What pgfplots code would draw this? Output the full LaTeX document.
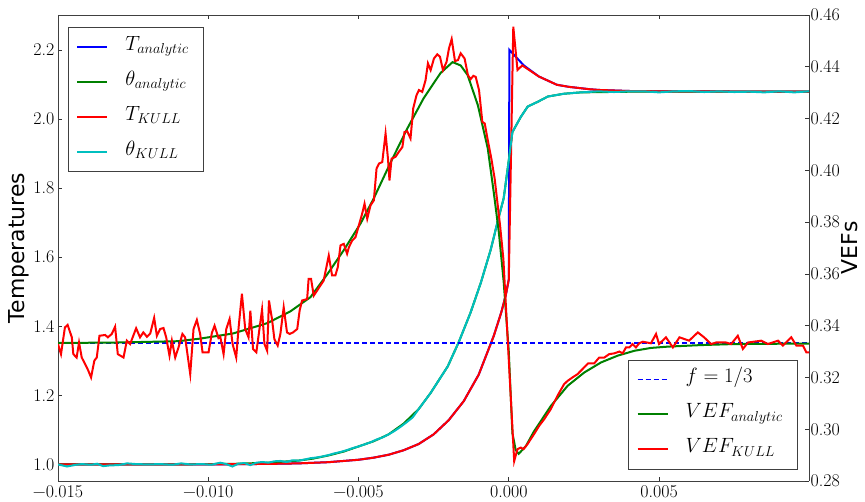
\documentclass[border=0pt]{standalone}
\usepackage{fontspec}
\usepackage{pgfplots}
\pgfplotsset{compat=1.18}
\newfontfamily\labelfont{DejaVu Sans}
\definecolor{mplgreen}{rgb}{0,0.5,0}
\definecolor{mplcyan}{rgb}{0,0.75,0.75}

\pgfplotstableread{
x y
-0.01500 1.000
-0.01000 1.000
-0.00800 1.0015
-0.00700 1.003
-0.00600 1.0065
-0.00500 1.0135
-0.00450 1.0195
-0.00400 1.028
-0.00350 1.041
-0.00300 1.059
-0.00250 1.087
-0.00200 1.128
-0.00150 1.183
-0.00100 1.260
-0.00050 1.372
-0.00025 1.440
-0.00010 1.490
0.00000 1.535
0.00002 2.200
0.00050 2.155
0.00100 2.123
0.00160 2.099
0.00200 2.093
0.00270 2.086
0.00300 2.084
0.00400 2.081
0.00500 2.080
0.00999 2.079
}\Tana

\pgfplotstableread{
x y
-0.01500 1.000
-0.01000 1.000
-0.00800 1.0015
-0.00700 1.003
-0.00600 1.0065
-0.00500 1.0135
-0.00450 1.0195
-0.00400 1.028
-0.00350 1.041
-0.00300 1.059
-0.00250 1.087
-0.00200 1.128
-0.00150 1.183
-0.00100 1.260
-0.00050 1.372
-0.00025 1.440
-0.00010 1.490
0.00000 1.535
0.00015 2.267
0.00029 2.142
0.00045 2.155
0.00100 2.123
0.00160 2.099
0.00200 2.093
0.00270 2.086
0.00300 2.084
0.00400 2.081
0.00500 2.080
0.00999 2.079
}\Tkull

\pgfplotstableread{
x y
-0.01500 1.000
-0.01100 1.000
-0.01000 1.001
-0.00900 1.002
-0.00800 1.005
-0.00700 1.011
-0.00650 1.017
-0.00600 1.026
-0.00550 1.037
-0.00500 1.052
-0.00450 1.067
-0.00427 1.076
-0.00400 1.087
-0.00350 1.118
-0.00300 1.160
-0.00260 1.207
-0.00203 1.284
-0.00167 1.353
-0.00127 1.440
-0.00093 1.526
-0.00060 1.622
-0.00033 1.717
-0.00017 1.770
0.00000 1.880
0.00012 1.962
0.00040 2.006
0.00063 2.036
0.00097 2.050
0.00130 2.065
0.00183 2.073
0.00240 2.077
0.00410 2.079
0.00999 2.079
}\thana

\pgfplotstableread{
x y
-0.01500 1.000
-0.01470 0.994
-0.01440 0.999
-0.01420 1.001
-0.01390 0.999
-0.01370 1.002
-0.01350 0.995
-0.01330 0.997
-0.01300 0.998
-0.01270 1.003
-0.01240 1.001
-0.01200 1.000
-0.01160 1.001
-0.01120 0.999
-0.01090 1.003
-0.01060 1.000
-0.01020 1.001
-0.00990 0.999
-0.00960 1.005
-0.00940 1.001
-0.00920 0.994
-0.00900 1.002
-0.00880 1.004
-0.00860 0.998
-0.00840 1.005
-0.00820 1.007
-0.00800 1.005
-0.00780 1.009
-0.00760 1.010
-0.00740 1.007
-0.00720 1.012
-0.00700 1.011
-0.00680 1.014
-0.00660 1.018
-0.00640 1.020
-0.00620 1.023
-0.00600 1.027
-0.00580 1.032
-0.00560 1.036
-0.00540 1.041
-0.00520 1.047
-0.00500 1.052
-0.00480 1.058
-0.00460 1.064
-0.00440 1.072
-0.00420 1.078
-0.00400 1.087
-0.00380 1.097
-0.00360 1.109
-0.00340 1.122
-0.00320 1.136
-0.00300 1.160
-0.00260 1.207
-0.00203 1.284
-0.00167 1.353
-0.00127 1.440
-0.00093 1.526
-0.00060 1.622
-0.00033 1.717
-0.00017 1.770
0.00000 1.880
0.00012 1.962
0.00040 2.006
0.00063 2.036
0.00097 2.050
0.00130 2.065
0.00183 2.073
0.00240 2.077
0.00300 2.080
0.00350 2.078
0.00400 2.080
0.00450 2.080
0.00500 2.077
0.00550 2.080
0.00600 2.081
0.00650 2.078
0.00700 2.080
0.00750 2.078
0.00800 2.079
0.00850 2.077
0.00900 2.080
0.00950 2.077
0.00999 2.080
}\thkull

\pgfplotstableread{
x y
-0.01500 0.3333
-0.01300 0.3335
-0.01100 0.3340
-0.01027 0.3350
-0.00917 0.3370
-0.00803 0.3410
-0.00727 0.3455
-0.00660 0.3510
-0.00603 0.3600
-0.00550 0.3690
-0.00493 0.3795
-0.00450 0.3890
-0.00393 0.4031
-0.00337 0.4163
-0.00283 0.4279
-0.00227 0.4376
-0.00187 0.4418
-0.00160 0.4405
-0.00137 0.4368
-0.00103 0.4252
-0.00070 0.4085
-0.00050 0.3915
-0.00033 0.3760
-0.00017 0.3570
0.00000 0.3300
0.00012 0.2985
0.00023 0.2920
0.00033 0.2905
0.00057 0.2935
0.00083 0.2990
0.00140 0.3090
0.00196 0.3168
0.00251 0.3219
0.00307 0.3258
0.00362 0.3284
0.00418 0.3303
0.00473 0.3314
0.00529 0.3319
0.00640 0.3325
0.00750 0.3329
0.00999 0.3331
}\Vana

\pgfplotstableread{
x y
-0.01500 0.3329
-0.01490 0.3290
-0.01477 0.3393
-0.01468 0.3403
-0.01454 0.3355
-0.01449 0.3290
-0.01438 0.3277
-0.01430 0.3335
-0.01421 0.3277
-0.01410 0.3252
-0.01399 0.3226
-0.01390 0.3200
-0.01379 0.3265
-0.01371 0.3277
-0.01362 0.3361
-0.01343 0.3364
-0.01334 0.3355
-0.01321 0.3368
-0.01310 0.3396
-0.01301 0.3290
-0.01282 0.3277
-0.01271 0.3342
-0.01260 0.3329
-0.01240 0.3390
-0.01227 0.3355
-0.01216 0.3374
-0.01204 0.3357
-0.01193 0.3370
-0.01180 0.3430
-0.01171 0.3361
-0.01160 0.3387
-0.01149 0.3391
-0.01140 0.3355
-0.01129 0.3284
-0.01121 0.3342
-0.01110 0.3277
-0.01099 0.3316
-0.01086 0.3368
-0.01077 0.3355
-0.01060 0.3213
-0.01049 0.3387
-0.01038 0.3422
-0.01027 0.3368
-0.01019 0.3297
-0.00999 0.3297
-0.00988 0.3372
-0.00979 0.3400
-0.00966 0.3352
-0.00960 0.3357
-0.00949 0.3290
-0.00940 0.3387
-0.00929 0.3426
-0.00919 0.3329
-0.00907 0.3277
-0.00899 0.3393
-0.00888 0.3523
-0.00877 0.3387
-0.00866 0.3355
-0.00860 0.3458
-0.00851 0.3310
-0.00840 0.3297
-0.00829 0.3393
-0.00821 0.3462
-0.00813 0.3329
-0.00804 0.3303
-0.00798 0.3497
-0.00788 0.3426
-0.00780 0.3348
-0.00769 0.3323
-0.00760 0.3368
-0.00749 0.3471
-0.00738 0.3374
-0.00729 0.3368
-0.00718 0.3374
-0.00704 0.3387
-0.00696 0.3458
-0.00688 0.3497
-0.00671 0.3503
-0.00666 0.3581
-0.00658 0.3581
-0.00649 0.3516
-0.00638 0.3535
-0.00627 0.3555
-0.00616 0.3574
-0.00599 0.3671
-0.00588 0.3594
-0.00577 0.3594
-0.00569 0.3626
-0.00560 0.3710
-0.00549 0.3716
-0.00538 0.3678
-0.00532 0.3703
-0.00521 0.3729
-0.00510 0.3742
-0.00499 0.3787
-0.00488 0.3832
-0.00480 0.3871
-0.00471 0.3813
-0.00460 0.3865
-0.00449 0.3884
-0.00440 0.4007
-0.00432 0.4026
-0.00421 0.4032
-0.00410 0.4142
-0.00402 0.4045
-0.00397 0.3961
-0.00390 0.4045
-0.00377 0.4052
-0.00366 0.4071
-0.00354 0.4090
-0.00347 0.4148
-0.00338 0.4151
-0.00327 0.4123
-0.00318 0.4239
-0.00307 0.4290
-0.00299 0.4310
-0.00288 0.4303
-0.00277 0.4348
-0.00269 0.4413
-0.00260 0.4387
-0.00249 0.4432
-0.00238 0.4448
-0.00229 0.4439
-0.00219 0.4387
-0.00207 0.4419
-0.00199 0.4471
-0.00190 0.4507
-0.00179 0.4422
-0.00169 0.4426
-0.00160 0.4452
-0.00147 0.4432
-0.00136 0.4368
-0.00127 0.4352
-0.00118 0.4365
-0.00110 0.4361
-0.00099 0.4310
-0.00088 0.4187
-0.00080 0.4181
-0.00071 0.4123
-0.00058 0.4045
-0.00047 0.3968
-0.00038 0.3877
-0.00029 0.3787
-0.00018 0.3658
0.00018 0.2877
0.00029 0.2923
0.00040 0.2929
0.00049 0.2923
0.00062 0.2942
0.00084 0.2981
0.00101 0.3013
0.00118 0.3039
0.00140 0.3078
0.00162 0.3129
0.00184 0.3174
0.00196 0.3187
0.00212 0.3200
0.00229 0.3213
0.00251 0.3239
0.00264 0.3254
0.00284 0.3254
0.00301 0.3277
0.00318 0.3277
0.00334 0.3290
0.00351 0.3293
0.00368 0.3300
0.00379 0.3293
0.00390 0.3316
0.00401 0.3316
0.00412 0.3329
0.00423 0.3316
0.00434 0.3332
0.00446 0.3338
0.00473 0.3332
0.00490 0.3368
0.00500 0.3329
0.00523 0.3355
0.00546 0.3316
0.00568 0.3355
0.00600 0.3342
0.00629 0.3374
0.00650 0.3355
0.00673 0.3329
0.00690 0.3335
0.00723 0.3335
0.00740 0.3329
0.00762 0.3361
0.00779 0.3310
0.00796 0.3335
0.00840 0.3342
0.00862 0.3329
0.00896 0.3342
0.00912 0.3323
0.00940 0.3355
0.00957 0.3323
0.00979 0.3323
0.00990 0.3297
0.00999 0.3297
}\Vkull

\pgfplotsset{
  common/.style={
    width=751bp, height=466bp, scale only axis,
    xmin=-0.015, xmax=0.00999,
    scaled x ticks=false, scaled y ticks=false,
    tick align=inside, major tick length=4bp,
    every tick/.style={black!80, line width=0.6bp},
    axis line style={black!75, line width=0.8bp},
    tick label style={font=\fontsize{18}{20}\selectfont},
    /pgf/number format/assume math mode=true,
    legend cell align=left,
    legend image code/.code={\draw[##1] (0bp,0bp) -- (30bp,0bp);},
    legend style={draw=black!75, line width=0.8bp, fill=white,
      font=\fontsize{20}{24}\selectfont,
      inner xsep=8bp, inner ysep=2bp,
      nodes={inner xsep=7bp, inner ysep=7bp, text height=14bp, text depth=7bp},
      column sep=10bp, row sep=0bp},
  },
}

\begin{document}
\begin{tikzpicture}
\begin{axis}[common, name=main,
  ymin=0.952, ymax=2.301,
  axis y line*=left,
  xtick={-0.015,-0.01,-0.005,0,0.005},
  xticklabels={−0.015,−0.010,−0.005,0.000,0.005},
  xticklabel style={anchor=north, inner sep=0pt, yshift=-4bp},
  ytick={1,1.2,1.4,1.6,1.8,2,2.2},
  yticklabels={1.0,1.2,1.4,1.6,1.8,2.0,2.2},
  yticklabel style={anchor=east, inner sep=0pt, xshift=-3.5bp},
  ylabel={Temperatures},
  ylabel style={at={(axis description cs:-0.04394,0.5)}, anchor=base,
    font=\labelfont\fontsize{22}{26}\selectfont},
  legend style={at={(0.0133,0.9743)}, anchor=north west},
]
\addplot[blue, line width=2bp] table {\Tana};
\addlegendentry{$T_{analytic}$}
\addplot[mplgreen, line width=2bp] table {\thana};
\addlegendentry{$\theta_{analytic}$}
\addplot[red, line width=2bp] table {\Tkull};
\addlegendentry{$T_{KULL}$}
\addplot[mplcyan, line width=2bp] table {\thkull};
\addlegendentry{$\theta_{KULL}$}
\end{axis}
\begin{axis}[common,
  ymin=0.28, ymax=0.46,
  axis y line*=right, axis x line=none,
  ytick={0.28,0.30,0.32,0.34,0.36,0.38,0.40,0.42,0.44,0.46},
  yticklabels={0.28,0.30,0.32,0.34,0.36,0.38,0.40,0.42,0.44,0.46},
  yticklabel style={anchor=west, inner sep=0pt, xshift=1.5bp},
  ylabel={VEFs},
  ylabel style={at={(axis description cs:1.0652,0.5)}, anchor=base,
    font=\labelfont\fontsize{22}{26}\selectfont},
  legend style={at={(0.9854,0.025)}, anchor=south east},
]
\addplot[blue, line width=1.6bp, dash pattern=on 5bp off 3bp] coordinates {(-0.015,0.33333) (0.00999,0.33333)};
\addlegendentry{$f=1/3$}
\addplot[mplgreen, line width=2bp] table {\Vana};
\addlegendentry{$VEF_{analytic}$}
\addplot[red, line width=2bp] table {\Vkull};
\addlegendentry{$VEF_{KULL}$}
\end{axis}
\pgfresetboundingbox
\path (main.south west) ++(-58bp,-21bp) rectangle ++(865bp,502bp);
\end{tikzpicture}
\end{document}
